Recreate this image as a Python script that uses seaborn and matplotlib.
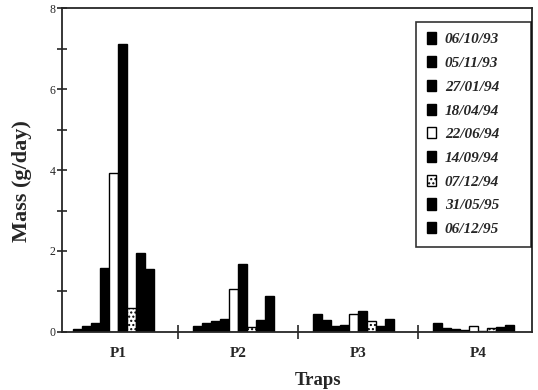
import matplotlib
matplotlib.use("Agg")
import matplotlib.pyplot as plt
import matplotlib.transforms as mtransforms
import seaborn as sns
import pandas as pd
from matplotlib.patches import Patch

traps = ["P1", "P2", "P3", "P4"]
dates = ["06/10/93", "05/11/93", "27/01/94", "18/04/94", "22/06/94",
         "14/09/94", "07/12/94", "31/05/95", "06/12/95"]
p1 = [0.07, 0.15, 0.22, 1.57, 3.93, 7.12, 0.6, 1.95, 1.55]
p2 = [0.15, 0.22, 0.28, 0.33, 1.05, 1.68, 0.12, 0.3, 0.88]
p3 = [0.45, 0.3, 0.15, 0.17, 0.45, 0.52, 0.28, 0.15, 0.33]
p4 = [0.22, 0.1, 0.07, 0.04, 0.15, 0.03, 0.1, 0.13, 0.17]
values = [p1, p2, p3, p4]

rows = []
for t, vals in zip(traps, values):
    for d, v in zip(dates, vals):
        rows.append({"Trap": t, "Date": d, "Mass": v})
df = pd.DataFrame(rows)

fills = ["black", "black", "black", "black", "white", "black", "white", "black", "black"]
hatches = [None, None, None, None, None, None, "....", None, None]

sns.set_style("ticks")
plt.rcParams["font.family"] = ["Liberation Serif", "DejaVu Serif"]

fig = plt.figure(figsize=(5.38, 3.9), dpi=100)
ax = fig.add_axes([0.115, 0.149, 0.874, 0.830])

sns.barplot(data=df, x="Trap", y="Mass", hue="Date", hue_order=dates,
            palette=fills, width=0.675, edgecolor="black", linewidth=1.0,
            saturation=1, ax=ax, legend=False)

shift = mtransforms.ScaledTranslation(-5 / 100, 0, fig.dpi_scale_trans)
for cont, fc, h in zip(ax.containers, fills, hatches):
    for bar in cont:
        bar.set_facecolor(fc)
        bar.set_edgecolor("black")
        bar.set_transform(ax.transData + shift)
        if h:
            bar.set_hatch(h)

ax.set_xlim(-0.47, 3.45)
ax.set_ylim(0, 8)
ax.set_yticks([0, 2, 4, 6, 8])
ax.set_yticks([1, 3, 5, 7], minor=True)
ax.tick_params(axis="y", which="both", direction="inout", length=7, width=1.2,
               labelsize=8.5, pad=1)
ax.set_xticks([0, 1, 2, 3])
ax.set_xticklabels(traps, fontsize=11, fontweight="bold")
ax.tick_params(axis="x", which="major", length=0, pad=11)
ax.set_xticks([0.5, 1.5, 2.5], minor=True)
ax.tick_params(axis="x", which="minor", direction="inout", length=10, width=1.2)

for s in ax.spines.values():
    s.set_linewidth(1.3)
    s.set_visible(True)

ax.set_xlabel("Traps", fontsize=13.5, fontweight="bold")
ax.xaxis.set_label_coords(0.545, -0.123)
ax.set_ylabel("Mass (g/day)", fontsize=16, fontweight="bold")
ax.yaxis.set_label_coords(-0.064, 0.466)

handles = [Patch(facecolor=fc, edgecolor="black", hatch=h, linewidth=1.0)
           for fc, h in zip(fills, hatches)]
leg = ax.legend(handles, dates, loc="upper left",
                bbox_to_anchor=(0.753, 0.0, 0.245, 0.958), mode="expand",
                frameon=True, fancybox=False, edgecolor="black",
                prop={"family": "Liberation Serif", "style": "italic",
                      "weight": "bold", "size": 11},
                handlelength=0.6, handleheight=0.75, handletextpad=0.6,
                labelspacing=0.64, borderpad=0.7, borderaxespad=0)
leg.get_frame().set_linewidth(1.2)

fig.savefig("out.png", dpi=100)
